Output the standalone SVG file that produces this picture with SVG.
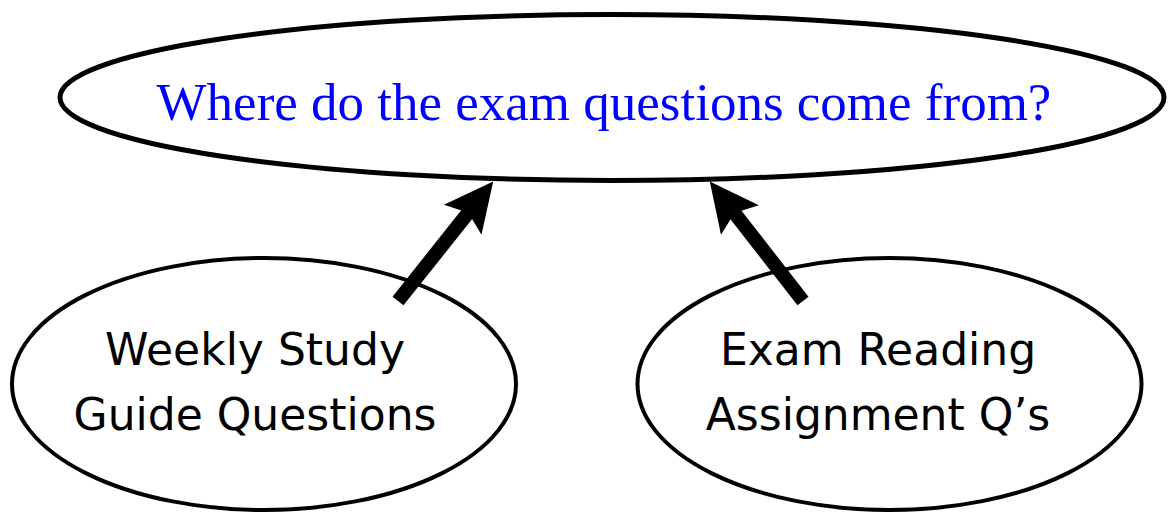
<svg xmlns="http://www.w3.org/2000/svg" width="1171" height="516" viewBox="0 0 1171 516">
<defs>
<style>
.node{fill:#fff;stroke:#000;stroke-width:5}
.small{stroke-width:4}
.title{font-family:"Liberation Serif","Times New Roman",serif;font-size:53px;fill:#0000ff;text-anchor:middle}
.lbl{font-family:"DejaVu Sans","Noto Sans",sans-serif;font-size:44px;fill:#000;text-anchor:middle}
.conn{stroke:#000;stroke-width:14;fill:none}
</style>
<marker id="ah" markerUnits="userSpaceOnUse" viewBox="0 0 52 52" markerWidth="52" markerHeight="52" refX="12" refY="26" orient="auto">
<path d="M52,26 L3,2 L12,26 L3,50 Z" fill="#000"/>
</marker>
</defs>
<rect width="1171" height="516" fill="#fff"/>
<g id="node-top">
<ellipse class="node" cx="612" cy="97.5" rx="552" ry="83"/>
<text class="title" x="604" y="120">Where do the exam questions come from?</text>
</g>
<g id="node-left">
<ellipse class="node small" cx="264" cy="384" rx="252" ry="126"/>
<text class="lbl" x="255" y="365">Weekly Study</text>
<text class="lbl" x="255" y="430">Guide Questions</text>
</g>
<g id="node-right">
<ellipse class="node small" cx="889.5" cy="384" rx="252" ry="126"/>
<text class="lbl" x="878" y="365">Exam Reading</text>
<text class="lbl" x="878" y="430">Assignment Q’s</text>
</g>
<g id="connectors">
<line class="conn" x1="398" y1="301" x2="468.3" y2="212.7" marker-end="url(#ah)"/>
<line class="conn" x1="803" y1="301" x2="734.4" y2="213" marker-end="url(#ah)"/>
</g>
</svg>
